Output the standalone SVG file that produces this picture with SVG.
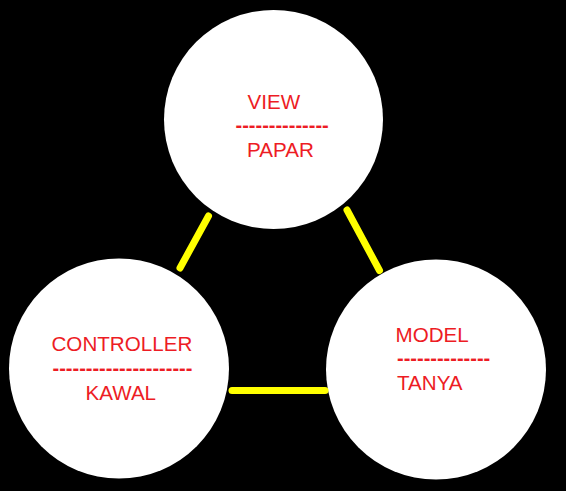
<svg xmlns="http://www.w3.org/2000/svg" width="566" height="491" viewBox="0 0 566 491">
<style>
.node{fill:#ffffff;}
.lbl{font-family:"Liberation Sans",Arial,sans-serif;font-size:20.6px;fill:#ed1c24;}
.dash{font-size:20px;font-weight:bold;}
.conn{stroke:#ffff00;stroke-width:7;stroke-linecap:round;fill:none;}
</style>
<rect x="0" y="0" width="566" height="491" fill="#000000"/>
<g id="view">
<circle class="node" cx="273.5" cy="119.5" r="109.5"/>
<text class="lbl" x="247.5" y="109">VIEW</text>
<text class="lbl dash" x="235.5" y="132">--------------</text>
<text class="lbl" x="247" y="157">PAPAR</text>
</g>
<g id="controller">
<circle class="node" cx="119" cy="368.5" r="110"/>
<text class="lbl" x="51.5" y="351">CONTROLLER</text>
<text class="lbl dash" x="52.5" y="374.5">---------------------</text>
<text class="lbl" x="85.5" y="399.5">KAWAL</text>
</g>
<g id="model">
<circle class="node" cx="436" cy="369.5" r="110"/>
<text class="lbl" x="395.5" y="342">MODEL</text>
<text class="lbl dash" x="397" y="365">--------------</text>
<text class="lbl" x="397" y="389.5">TANYA</text>
</g>
<g id="connectors">
<line class="conn" x1="208.5" y1="216" x2="180" y2="268"/>
<line class="conn" x1="347" y1="210" x2="379.5" y2="270.5"/>
<line class="conn" x1="232" y1="390.5" x2="325" y2="390.5"/>
</g>
</svg>
